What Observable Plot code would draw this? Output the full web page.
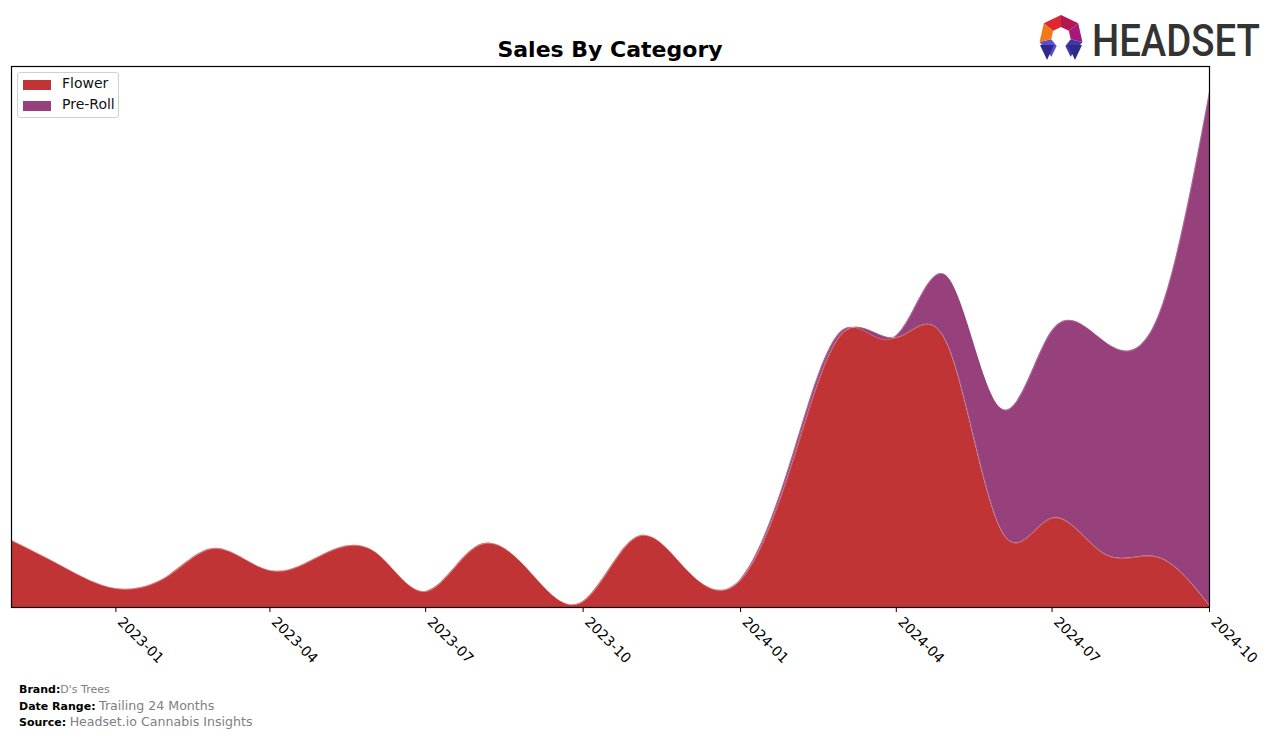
<!DOCTYPE html>
<html>
<head>
<meta charset="utf-8">
<script src="https://cdn.jsdelivr.net/npm/d3@7"></script>
<script src="https://cdn.jsdelivr.net/npm/@observablehq/plot@0.6"></script>
<style>
  html, body { margin: 0; padding: 0; background: #fff; }
  body { width: 1276px; height: 738px; position: relative; overflow: hidden; font-family: "DejaVu Sans", sans-serif; }
  #title { position: absolute; left: 0; width: 1220px; top: 37px; text-align: center; font-weight: bold; font-size: 22px; color: #000; }
  #chart { position: absolute; left: 0; top: 66px; }
  #legend { position: absolute; left: 17px; top: 72px; width: 100px; height: 44px; border: 1px solid #d0d0d0; border-radius: 3px; background: rgba(255,255,255,0.9); font-size: 14px; }
  .lrow { position: absolute; left: 5px; height: 16px; }
  .sw { position: absolute; left: 0; top: 3px; width: 28px; height: 10px; }
  .lt { position: absolute; left: 39px; top: -2px; white-space: nowrap; color: #111; }
  #footer { position: absolute; left: 19px; top: 682px; font-size: 11px; line-height: 16px; }
  #footer b { color: #000; }
  .g { color: #808080; }
  .g13 { color: #808080; font-size: 12.6px; }
  #logo { position: absolute; left: 1030px; top: 8px; }
</style>
</head>
<body>
<div id="title">Sales By Category</div>
<div id="chart"></div>
<div id="legend"></div>
<div id="footer">
  <div style="height:16px"><b>Brand:</b><span class="g">D's Trees</span></div>
  <div style="height:16px"><b>Date Range:</b> <span class="g13">Trailing 24 Months</span></div>
  <div style="height:16px"><b>Source:</b> <span class="g13">Headset.io Cannabis Insights</span></div>
</div>
<svg id="logo" width="240" height="60"></svg>
<script>
// ---- data ----
const months = ["2022-11","2022-12","2023-01","2023-02","2023-03","2023-04","2023-05","2023-06",
  "2023-07","2023-08","2023-09","2023-10","2023-11","2023-12","2024-01","2024-02","2024-03",
  "2024-04","2024-05","2024-06","2024-07","2024-08","2024-09","2024-10"];
const categories = ["Flower", "Pre-Roll"];
const colors = ["#c03435", "#96417b"];
const flower  = [67, 41, 19, 32, 59, 37, 52, 56, 16, 62, 34, 6, 70, 37, 27, 148, 274, 269, 262, 78, 89, 53, 50, 2];
const preRoll = [0, 0, 0, 0, 0, 0, 0, 0, 0, 0, 0, 0, 0, 0, 1, 7, 3, 2, 68, 121, 187, 212, 240, 512];
const tickLabels = ["2023-01","2023-04","2023-07","2023-10","2024-01","2024-04","2024-07","2024-10"];

const parse = d3.utcParse("%Y-%m");
const series = [flower, preRoll];
const data = [];
categories.forEach((c, ci) => months.forEach((m, i) => data.push({date: parse(m), category: c, value: series[ci][i]})));
const totals = months.map((m, i) => flower[i] + preRoll[i]);
const ymax = d3.max(totals) * 1.05;
const tickDates = tickLabels.map(parse);

const chart = Plot.plot({
  width: 1276,
  height: 621,
  marginLeft: 11,
  marginRight: 67,
  marginTop: 0,
  marginBottom: 80,
  style: {fontFamily: "DejaVu Sans", fontSize: "14px", color: "#000", overflow: "visible"},
  x: {type: "utc", domain: [parse(months[0]), parse(months[months.length - 1])], label: null},
  y: {domain: [0, ymax], axis: null},
  color: {domain: categories, range: colors},
  marks: [
    Plot.areaY(data, {x: "date", y: "value", fill: "category", curve: "natural", order: categories}),
    Plot.lineY(data, Plot.stackY2({x: "date", y: "value", z: "category", order: categories, curve: "natural", stroke: "#ffffff", strokeOpacity: 0.3, strokeWidth: 0.8})),
    Plot.axisX({ticks: tickDates, tickFormat: () => "", tickSize: 5, label: null}),
    Plot.axisX({ticks: tickDates, tickFormat: d3.utcFormat("%Y-%m"), tickRotate: 45,
      tickSize: 0, tickPadding: 8, dx: 4, dy: 4, label: null, fontSize: 14}),
    Plot.frame({stroke: "#000", strokeWidth: 1.2})
  ]
});
document.getElementById("chart").appendChild(chart);

// legend
const lg = document.getElementById("legend");
categories.forEach((c, i) => {
  const row = document.createElement("div");
  row.className = "lrow";
  row.style.top = (4 + i * 21) + "px";
  row.innerHTML = `<div class="sw" style="background:${colors[i]}"></div><div class="lt">${c}</div>`;
  lg.appendChild(row);
});

// logo
const svg = d3.select("#logo");
const cx = 31, cy = 29, R = 22, r = 10;
const segColors = ["#b5164f", "#a8187c", "#3d3aa8", null, "#5b4fd0", "#f07a1a", "#e0262f"];
for (let k = 0; k < 7; k++) {
  if (!segColors[k]) continue;
  const a0 = (-90 + k * 360 / 7) * Math.PI / 180, a1 = (-90 + (k + 1) * 360 / 7) * Math.PI / 180;
  const pts = [[cx + R * Math.cos(a0), cy + R * Math.sin(a0)], [cx + R * Math.cos(a1), cy + R * Math.sin(a1)],
               [cx + r * Math.cos(a1), cy + r * Math.sin(a1)], [cx + r * Math.cos(a0), cy + r * Math.sin(a0)]];
  svg.append("polygon").attr("points", pts.map(p => p.join(",")).join(" ")).attr("fill", segColors[k]);
}
svg.append("polygon").attr("points", "10,37 24,37 17,52").attr("fill", "#2f2a8a");
svg.append("polygon").attr("points", "38,37 52,37 45,52").attr("fill", "#2f2a8a");
const lt = svg.append("text").attr("x", 0).attr("y", 0).attr("font-family", "Roboto, 'DejaVu Sans', sans-serif")
  .attr("font-weight", 500).attr("font-size", 44).attr("fill", "#333").text("HEADSET");
const natural = lt.node().getComputedTextLength();
lt.attr("transform", `translate(62,48) scale(${168 / natural},1)`);
</script>
</body>
</html>
